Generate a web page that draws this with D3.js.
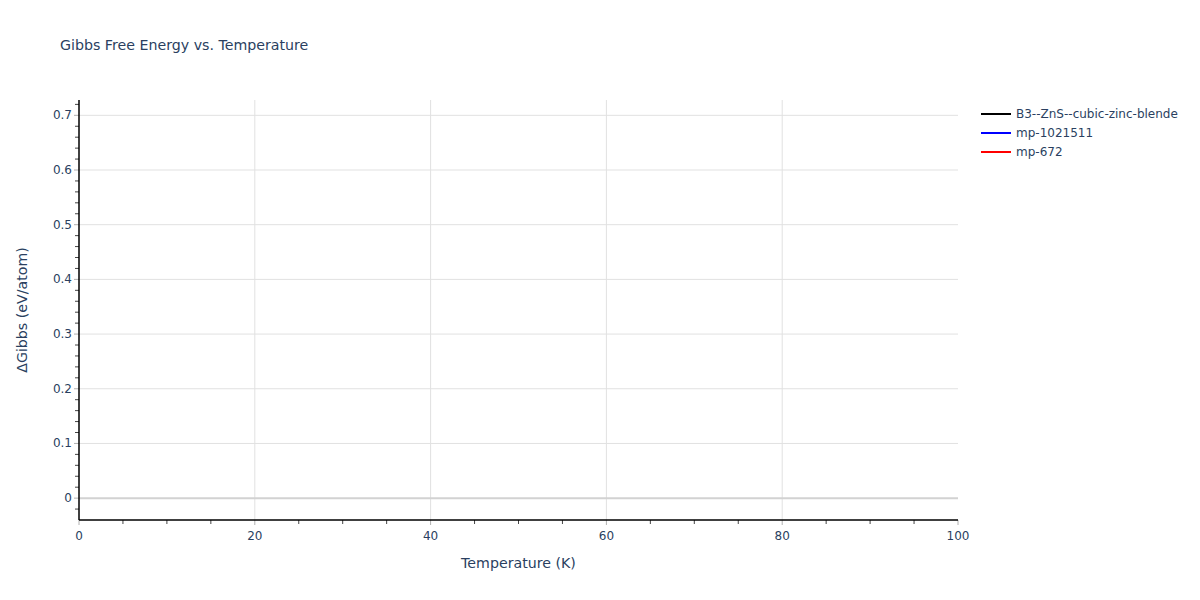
<!DOCTYPE html>
<html>
<head>
<meta charset="utf-8">
<script src="https://cdn.jsdelivr.net/npm/d3@7"></script>
<style>
  body { margin: 0; background: #fff; }
  text { font-family: "DejaVu Sans", Verdana, sans-serif; fill: #2a3f5f; }
</style>
</head>
<body>
<div id="chart"></div>
<script>
// series names and colours, as in the legend
var seriesNames = ["B3--ZnS--cubic-zinc-blende", "mp-1021511", "mp-672"];
var seriesColors = ["#000000", "#0000ff", "#ff0000"];

// no points of any series fall inside the visible window
var temperatures = [];
var gibbsB3 = [];
var gibbs1021511 = [];
var gibbs672 = [];

var xTicks = [0, 20, 40, 60, 80, 100];
var yTicks = [0, 0.1, 0.2, 0.3, 0.4, 0.5, 0.6, 0.7];
var xRange = [0, 100];
var yRange = [-0.04, 0.728];

var width = 1200, height = 600;
var plotLeft = 79, plotRight = 958, plotTop = 100, plotBottom = 520;

var svg = d3.select("#chart")
    .append("svg")
    .attr("width", width)
    .attr("height", height);

var x = d3.scaleLinear().domain(xRange).range([plotLeft, plotRight]);
var y = d3.scaleLinear().domain(yRange).range([plotBottom, plotTop]);

//grid lines
svg.append("g")
    .selectAll("line")
    .data(xTicks.filter(d => d > xRange[0] && d < xRange[1]))
    .enter()
    .append("line")
    .attr("x1", d => x(d)).attr("x2", d => x(d))
    .attr("y1", plotTop).attr("y2", plotBottom)
    .style("stroke", "#e1e1e1").style("stroke-width", 1);

svg.append("g")
    .selectAll("line")
    .data(yTicks.filter(d => d !== 0))
    .enter()
    .append("line")
    .attr("x1", plotLeft).attr("x2", plotRight)
    .attr("y1", d => y(d)).attr("y2", d => y(d))
    .style("stroke", "#e1e1e1").style("stroke-width", 1);

//zero line
svg.append("line")
    .attr("x1", plotLeft).attr("x2", plotRight)
    .attr("y1", y(0)).attr("y2", y(0))
    .style("stroke", "#d2d2d2").style("stroke-width", 2);

//series lines
var allSeries = [gibbsB3, gibbs1021511, gibbs672];
var line = d3.line()
    .x((d, i) => x(temperatures[i]))
    .y(d => y(d));

svg.append("g")
    .selectAll("path")
    .data(allSeries)
    .enter()
    .append("path")
    .attr("d", d => d.length ? line(d) : null)
    .style("fill", "none")
    .style("stroke", (d, i) => seriesColors[i])
    .style("stroke-width", 2);

//minor ticks
var xMinor = d3.range(xRange[0], xRange[1] + 0.001, 5).filter(d => d % 20 !== 0);
var yMinor = d3.range(-0.02, yRange[1], 0.02)
    .filter(d => Math.abs(Math.round(d * 10) - d * 10) > 0.01);

svg.append("g")
    .selectAll("line")
    .data(xMinor)
    .enter()
    .append("line")
    .attr("x1", d => x(d)).attr("x2", d => x(d))
    .attr("y1", plotBottom).attr("y2", plotBottom + 4)
    .style("stroke", "#444").style("stroke-width", 1);

svg.append("g")
    .selectAll("line")
    .data(yMinor)
    .enter()
    .append("line")
    .attr("x1", plotLeft - 4).attr("x2", plotLeft)
    .attr("y1", d => y(d)).attr("y2", d => y(d))
    .style("stroke", "#444").style("stroke-width", 1);

//major ticks
svg.append("g")
    .selectAll("line")
    .data(xTicks)
    .enter()
    .append("line")
    .attr("x1", d => x(d)).attr("x2", d => x(d))
    .attr("y1", plotBottom).attr("y2", plotBottom + 5)
    .style("stroke", "#b0b0b0").style("stroke-width", 1);

svg.append("g")
    .selectAll("line")
    .data(yTicks)
    .enter()
    .append("line")
    .attr("x1", plotLeft - 5).attr("x2", plotLeft)
    .attr("y1", d => y(d)).attr("y2", d => y(d))
    .style("stroke", "#b0b0b0").style("stroke-width", 1);

//axis lines
svg.append("line")
    .attr("x1", plotLeft).attr("x2", plotRight)
    .attr("y1", plotBottom).attr("y2", plotBottom)
    .style("stroke", "#000").style("stroke-width", 1.5);

svg.append("line")
    .attr("x1", plotLeft).attr("x2", plotLeft)
    .attr("y1", plotTop).attr("y2", plotBottom)
    .style("stroke", "#000").style("stroke-width", 1.5);

//tick labels
svg.append("g")
    .selectAll("text")
    .data(xTicks)
    .enter()
    .append("text")
    .attr("x", d => x(d))
    .attr("y", plotBottom + 20)
    .attr("text-anchor", "middle")
    .style("font-size", "12px")
    .text(d => d);

svg.append("g")
    .selectAll("text")
    .data(yTicks)
    .enter()
    .append("text")
    .attr("x", plotLeft - 7)
    .attr("y", d => y(d) + 4)
    .attr("text-anchor", "end")
    .style("font-size", "12px")
    .text(d => d3.format("")(d));

//titles
svg.append("text")
    .attr("x", 60)
    .attr("y", 50)
    .style("font-size", "14.2px")
    .text("Gibbs Free Energy vs. Temperature");

svg.append("text")
    .attr("x", (plotLeft + plotRight) / 2)
    .attr("y", 568)
    .attr("text-anchor", "middle")
    .style("font-size", "14.2px")
    .text("Temperature (K)");

svg.append("text")
    .attr("transform", "translate(27," + ((plotTop + plotBottom) / 2) + ") rotate(-90)")
    .attr("text-anchor", "middle")
    .style("font-size", "14.2px")
    .text("ΔGibbs (eV/atom)");

//legend
var legend = svg.append("g")
    .selectAll("g")
    .data(seriesNames)
    .enter()
    .append("g")
    .attr("transform", (d, i) => "translate(981," + (114 + i * 19) + ")");

legend.append("line")
    .attr("x1", 0).attr("x2", 30)
    .style("stroke", (d, i) => seriesColors[i])
    .style("stroke-width", 2);

legend.append("text")
    .attr("x", 35)
    .attr("y", 4)
    .style("font-size", "12px")
    .text(d => d);
</script>
</body>
</html>
